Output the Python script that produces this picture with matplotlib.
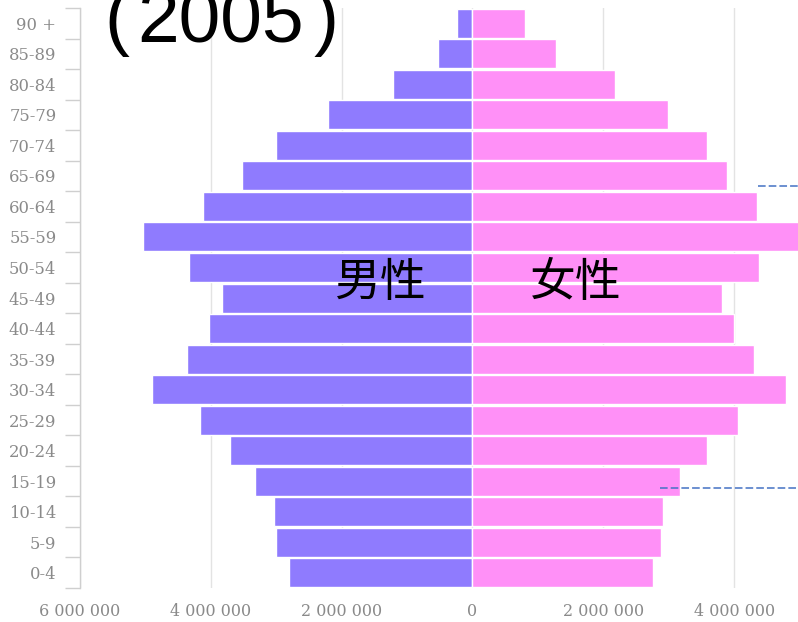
import matplotlib
matplotlib.use("Agg")
import matplotlib.pyplot as plt
from matplotlib.ticker import FixedLocator, FuncFormatter

age_groups = ["0-4", "5-9", "10-14", "15-19", "20-24", "25-29", "30-34", "35-39",
              "40-44", "45-49", "50-54", "55-59", "60-64", "65-69", "70-74",
              "75-79", "80-84", "85-89", "90 +"]
male = [2.81e6, 3.01e6, 3.04e6, 3.33e6, 3.71e6, 4.17e6, 4.90e6, 4.37e6, 4.03e6,
        3.83e6, 4.34e6, 5.04e6, 4.12e6, 3.53e6, 3.01e6, 2.21e6, 1.21e6, 0.53e6, 0.24e6]
female = [2.76e6, 2.89e6, 2.92e6, 3.18e6, 3.59e6, 4.06e6, 4.79e6, 4.31e6, 4.00e6,
          3.82e6, 4.38e6, 5.11e6, 4.35e6, 3.89e6, 3.59e6, 2.99e6, 2.18e6, 1.27e6, 0.81e6]
x_ticks = [-6e6, -4e6, -2e6, 0, 2e6, 4e6]
title_parts = ["(", "2005", ")"]
label_male = "男性"
label_female = "女性"
# annotation dashed lines: (y, x_start)
annot_lines = [(12.67, 4.37e6), (2.78, 2.87e6)]

W, H = 798, 622
fig = plt.figure(figsize=(W / 100, H / 100), dpi=100)
ax = fig.add_axes([80 / W, 34 / H, 1 - 80 / W, (588 - 8) / H])

y = list(range(len(age_groups)))
male_col = "#8f7bfe"
female_col = "#ff90f7"
ax.barh(y, [-v for v in male], height=0.95, color=male_col, edgecolor="white", linewidth=1.0, zorder=2)
ax.barh(y, female, height=0.95, color=female_col, edgecolor="white", linewidth=1.0, zorder=2)

ax.set_xlim(-6e6, 4.977e6)
ax.set_ylim(-0.5, len(age_groups) - 0.5)

for xv in x_ticks:
    ax.axvline(xv, color="#e3e3e3", linewidth=1.0, zorder=1)

ax.xaxis.set_major_locator(FixedLocator(x_ticks))
ax.xaxis.set_major_formatter(FuncFormatter(lambda v, p: f"{abs(int(v)):,}".replace(",", " ")))
ax.tick_params(axis="x", length=0, pad=11, labelsize=11.5, labelcolor="#8a8a8a")
for lab in ax.get_xticklabels():
    lab.set_family("DejaVu Serif")

ax.set_yticks(y)
ax.set_yticklabels(age_groups, family="DejaVu Serif")
ax.tick_params(axis="y", which="major", length=0, pad=17, labelsize=11.8, labelcolor="#8a8a8a")
ax.yaxis.set_minor_locator(FixedLocator([i - 0.5 for i in range(len(age_groups) + 1)]))
ax.tick_params(axis="y", which="minor", length=11, width=1, color="#cfcfcf")

for s in ["top", "right", "bottom"]:
    ax.spines[s].set_visible(False)
ax.spines["left"].set_color("#cfcfcf")
ax.spines["left"].set_linewidth(1)

for yy, xs in annot_lines:
    ax.plot([xs, 4.977e6], [yy, yy], linestyle=(0, (5, 2)), color="#4472c4", linewidth=1.1,
            zorder=3, clip_on=False)

ax.text(-1.42e6, 9.5, label_male, fontsize=33, family=["Noto Sans CJK SC", "DejaVu Sans"],
        ha="center", va="center", color="black", zorder=4)
ax.text(1.58e6, 9.5, label_female, fontsize=33, family=["Noto Sans CJK SC", "DejaVu Sans"],
        ha="center", va="center", color="black", zorder=4)

base = 1 - 42 / H
fig.text(104 / W, base, title_parts[0], fontsize=54, family="Liberation Sans",
         ha="left", va="baseline", color="black")
fig.text(221 / W, base, title_parts[1], fontsize=54, family="Liberation Sans",
         ha="center", va="baseline", color="black")
fig.text(313 / W, base, title_parts[2], fontsize=54, family="Liberation Sans",
         ha="left", va="baseline", color="black")

fig.savefig("out.png", dpi=100)
